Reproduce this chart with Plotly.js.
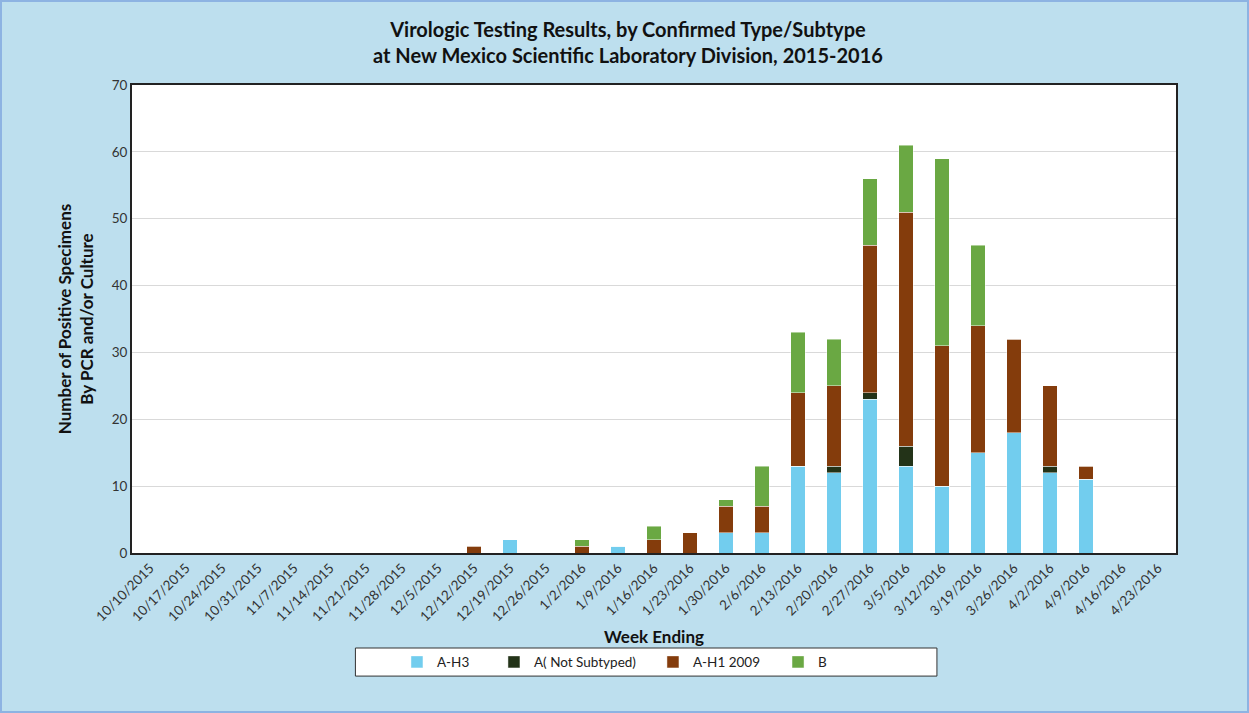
<!DOCTYPE html>
<html>
<head>
<meta charset="utf-8">
<script src="https://cdn.plot.ly/plotly-3.0.1.min.js"></script>
<style>
html,body{margin:0;padding:0;background:#BDDFEE;}
#chart{width:1249px;height:713px;box-sizing:border-box;border:2px solid #8DB3E2;}
</style>
</head>
<body>
<div id="chart"></div>
<script>
const weeks = ["10/10/2015","10/17/2015","10/24/2015","10/31/2015","11/7/2015","11/14/2015","11/21/2015","11/28/2015","12/5/2015","12/12/2015","12/19/2015","12/26/2015","1/2/2016","1/9/2016","1/16/2016","1/23/2016","1/30/2016","2/6/2016","2/13/2016","2/20/2016","2/27/2016","3/5/2016","3/12/2016","3/19/2016","3/26/2016","4/2/2016","4/9/2016","4/16/2016","4/23/2016"];
const aH3          = [0,0,0,0,0,0,0,0,0,0,2,0,0,1,0,0,3,3,13,12,23,13,10,15,18,12,11,0,0];
const aNotSubtyped = [0,0,0,0,0,0,0,0,0,0,0,0,0,0,0,0,0,0,0,1,1,3,0,0,0,1,0,0,0];
const aH1_2009     = [0,0,0,0,0,0,0,0,0,1,0,0,1,0,2,3,4,4,11,12,22,35,21,19,14,12,2,0,0];
const bType        = [0,0,0,0,0,0,0,0,0,0,0,0,1,0,2,0,1,6,9,7,10,10,28,12,0,0,0,0,0];
const yTicks = [0,10,20,30,40,50,60,70];

const font = "Lato, 'Open Sans', sans-serif";
function tr(name, y, color, lg){
  return {type:'bar', name:name, x:weeks, y:y, legend:lg,
    marker:{color:color, line:{color:'rgba(255,255,255,0.45)', width:1}}};
}
const data = [
  tr('A-H3', aH3, '#72CDEE', 'legend'),
  tr('A( Not Subtyped)', aNotSubtyped, '#233318', 'legend2'),
  tr('A-H1 2009', aH1_2009, '#843C0C', 'legend3'),
  tr('B', bType, '#6AA843', 'legend4')
];
function lg(x){
  return {orientation:'h', x:x, y:-0.2, xanchor:'left', yanchor:'top', bgcolor:'rgba(0,0,0,0)',
    font:{size:13.5, color:'#222'}, itemwidth:30};
}
const layout = {
  width:1245, height:709,
  paper_bgcolor:'#BDDFEE', plot_bgcolor:'#FFFFFF',
  barmode:'stack', bargap:0.6,
  margin:{l:130, r:71, t:83, b:158},
  font:{family:font, color:'#222'},
  xaxis:{type:'category', categoryorder:'array', categoryarray:weeks, tickvals:weeks, ticktext:weeks,
    tickangle:-45, tickfont:{size:13.5, color:'#333'}, showline:true, linecolor:'#222', linewidth:2, mirror:true,
    ticks:'', showgrid:false,
    title:{text:'<b>Week Ending</b>', font:{size:17, color:'#111'}, standoff:8}},
  yaxis:{range:[0,70], tickvals:yTicks, ticktext:yTicks.map(String), tickfont:{size:13.5, color:'#333'},
    showline:true, linecolor:'#222', linewidth:2, mirror:true, gridcolor:'#D9D9D9', zeroline:false, ticks:'',
    title:{text:'<b>Number of Positive Specimens<br>By PCR and/or Culture</b>', font:{size:17, color:'#111'}, standoff:14}},
  showlegend:true,
  legend:lg(0.2538), legend2:lg(0.3467), legend3:lg(0.4990), legend4:lg(0.6188),
  annotations:[{text:'<b>Virologic Testing Results, by Confirmed Type/Subtype<br>at New Mexico Scientific Laboratory Division, 2015-2016</b>',
    xref:'paper', yref:'paper', x:0.475, y:1.0919, xanchor:'center', yanchor:'middle', showarrow:false,
    font:{size:20, color:'#111', family:font}}],
  shapes:[{type:'rect', xref:'paper', yref:'paper', x0:0.214, x1:0.771, y0:-0.263, y1:-0.203,
    fillcolor:'#FFFFFF', line:{color:'#333', width:1}, layer:'below'}]
};
Plotly.newPlot('chart', data, layout, {displayModeBar:false});
</script>
</body>
</html>
